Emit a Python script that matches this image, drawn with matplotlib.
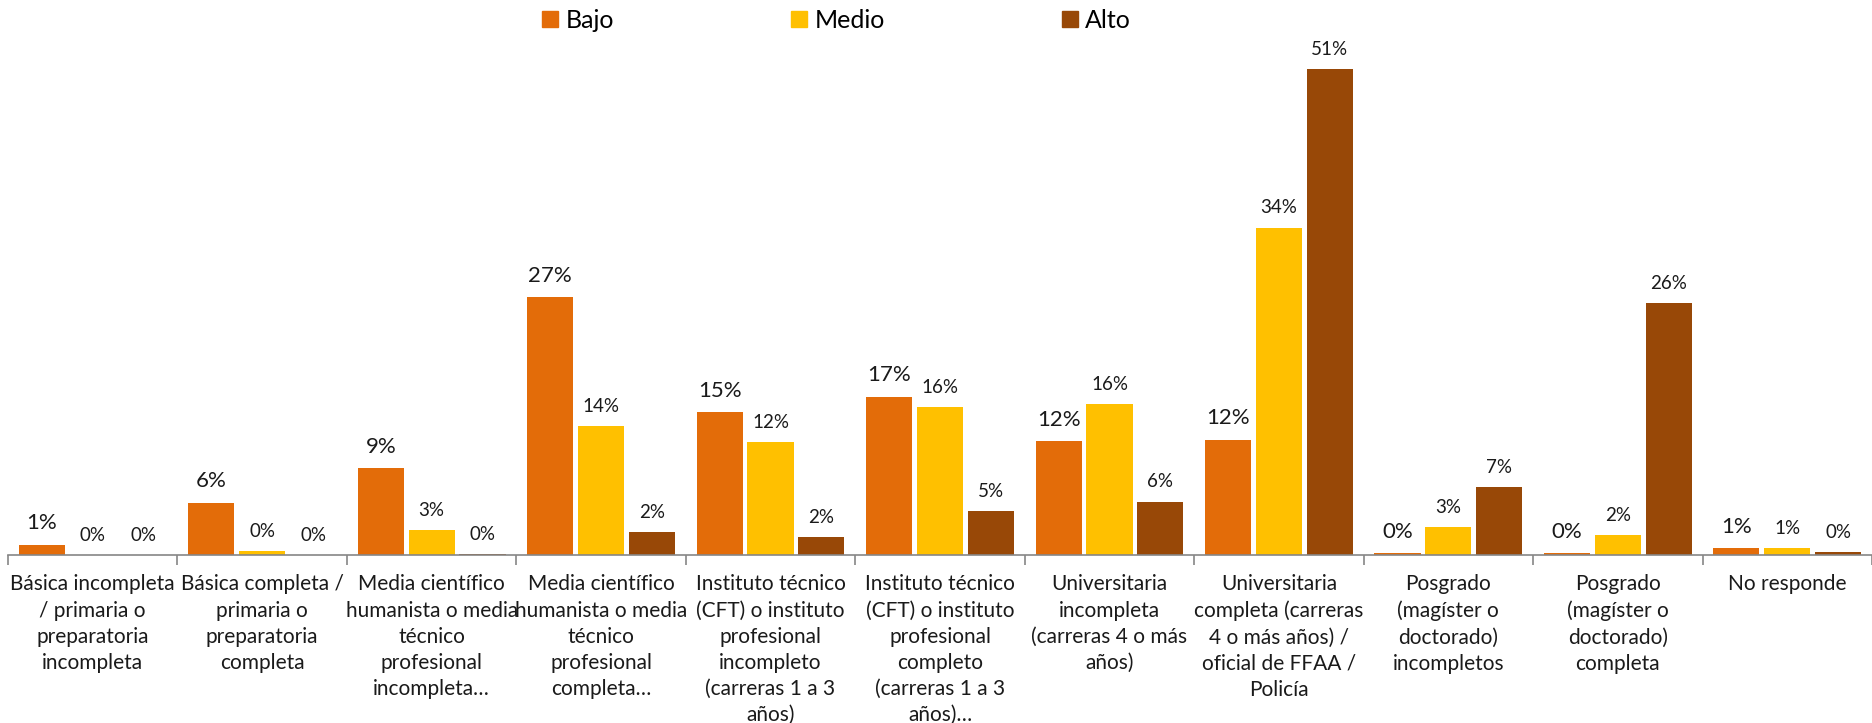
import numpy as np
import matplotlib
matplotlib.use("Agg")
import matplotlib.pyplot as plt
from matplotlib.patches import Patch

plt.rcParams['font.family'] = ['Lato', 'DejaVu Sans']

categories = [
    "Básica incompleta\n/ primaria o\npreparatoria\nincompleta",
    "Básica completa /\nprimaria o\npreparatoria\ncompleta",
    "Media científico\nhumanista o media\ntécnico\nprofesional\nincompleta…",
    "Media científico\nhumanista o media\ntécnico\nprofesional\ncompleta…",
    "Instituto técnico\n(CFT) o instituto\nprofesional\nincompleto\n(carreras 1 a 3\naños)",
    "Instituto técnico\n(CFT) o instituto\nprofesional\ncompleto\n(carreras 1 a 3\naños)…",
    "Universitaria\nincompleta\n(carreras 4 o más\naños)",
    "Universitaria\ncompleta (carreras\n4 o más años) /\noficial de FFAA /\nPolicía",
    "Posgrado\n(magíster o\ndoctorado)\nincompletos",
    "Posgrado\n(magíster o\ndoctorado)\ncompleta",
    "No responde",
]

bajo = [1.1, 5.5, 9.1, 27.0, 15.0, 16.6, 11.9, 12.1, 0.2, 0.2, 0.7]
medio = [0.0, 0.4, 2.6, 13.5, 11.8, 15.5, 15.8, 34.3, 2.9, 2.1, 0.7]
alto = [0.0, 0.0, 0.1, 2.4, 1.9, 4.6, 5.6, 50.9, 7.1, 26.4, 0.3]

series = ["Bajo", "Medio", "Alto"]
colors = ["#E36C09", "#FFC000", "#984807"]

fig = plt.figure(figsize=(18.72, 7.23), dpi=100)
ax = fig.add_axes([8 / 1872, 168 / 723, 1864 / 1872, 525 / 723])

x = np.arange(len(categories))
pitch = 0.30
width = 0.272

for i, (vals, col) in enumerate(zip([bajo, medio, alto], colors)):
    pos = x + (i - 1) * pitch
    ax.bar(pos, vals, width=width, color=col, edgecolor="none", zorder=2)
    fs = 16 if i == 0 else 13.5
    for px, v in zip(pos, vals):
        ax.annotate(f"{round(v):.0f}%", (px, v), xytext=(0, 8),
                    textcoords="offset points", ha="center", va="bottom",
                    fontsize=fs, color="#1a1a1a")

ax.set_xlim(-0.5, len(categories) - 0.5)
ax.set_ylim(0, 55)

for s in ["top", "right", "left"]:
    ax.spines[s].set_visible(False)
ax.spines["bottom"].set_color("#868686")
ax.spines["bottom"].set_linewidth(1.2)
ax.set_yticks([])

ax.set_xticks(np.arange(-0.5, len(categories)), minor=False)
ax.set_xticklabels([])
ax.tick_params(axis="x", which="major", length=7, color="#868686", width=1.2)
ax.set_xticks(x, minor=True)
ax.set_xticklabels(categories, minor=True, fontsize=15, color="#1a1a1a",
                   linespacing=1.38)
ax.tick_params(axis="x", which="minor", length=0, pad=14)
for lab in ax.get_xticklabels(minor=True):
    lab.set_verticalalignment("top")

handles = [Patch(color=c, label=s) for c, s in zip(colors, series)]
fig.legend(handles=handles, loc="center", bbox_to_anchor=(0.447, 0.972),
           ncol=3, frameon=False, fontsize=18, handlelength=0.62,
           handleheight=0.62, handletextpad=0.3, columnspacing=7.1)

fig.savefig("out.png", dpi=100)
